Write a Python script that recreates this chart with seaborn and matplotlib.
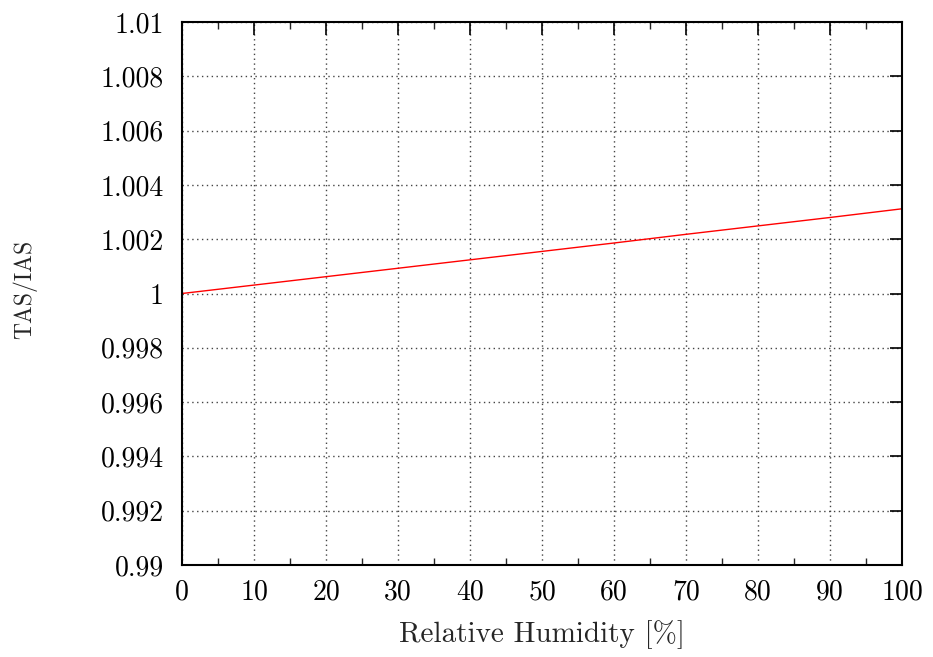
import matplotlib
matplotlib.use("Agg")
import matplotlib.pyplot as plt
import seaborn as sns
import pandas as pd
from matplotlib.ticker import MultipleLocator, FixedLocator

humidity = [0, 10, 20, 30, 40, 50, 60, 70, 80, 90, 100]
ratio = [1.00000, 1.00031, 1.00062, 1.00093, 1.00124, 1.00155,
         1.00186, 1.00218, 1.00249, 1.00280, 1.00312]
x_ticks = [0, 10, 20, 30, 40, 50, 60, 70, 80, 90, 100]
y_ticks = [0.99, 0.992, 0.994, 0.996, 0.998, 1.0, 1.002, 1.004, 1.006, 1.008, 1.01]
y_labels = ["0.99", "0.992", "0.994", "0.996", "0.998", "1", "1.002", "1.004", "1.006", "1.008", "1.01"]

sns.set_style("white")
plt.rcParams['font.family'] = ['cmr10', 'DejaVu Serif']
plt.rcParams['mathtext.fontset'] = 'cm'
plt.rcParams['axes.formatter.use_mathtext'] = True

df = pd.DataFrame({"RH": humidity, "ratio": ratio})

fig = plt.figure(figsize=(9.33, 6.57), dpi=100)
ax = fig.add_axes([182/933, 1-565/657, (902-182)/933, (565-22)/657])
sns.lineplot(data=df, x="RH", y="ratio", ax=ax, color="red", linewidth=1.0)

ax.set_xlim(0, 100)
ax.set_ylim(0.99, 1.01)
ax.xaxis.set_major_locator(FixedLocator(x_ticks))
ax.xaxis.set_minor_locator(MultipleLocator(5))
ax.set_yticks(y_ticks)
ax.set_yticklabels(y_labels)
ax.set_xticklabels([str(v) for v in x_ticks])

ax.grid(True, which="major", linestyle=(0, (1, 2.5)), color="#444444", linewidth=1.0)
for s in ax.spines.values():
    s.set_color("black")
    s.set_linewidth(1.5)
ax.tick_params(which="major", direction="in", length=9, width=1.2, top=True, right=True,
               labelsize=20, colors="black")
ax.tick_params(axis="y", which="major", pad=13)
ax.tick_params(axis="x", which="major", pad=10)
ax.tick_params(which="minor", direction="in", length=5, width=1.0, top=True, right=False,
               bottom=True)
ax.tick_params(axis="y", which="minor", left=False, right=False)

ax.set_xlabel("Relative Humidity [%]", fontsize=21, labelpad=11)
ax.set_ylabel("")
fig.text(25/933, 1-289/657, "TAS/IAS", rotation=90, fontsize=17, ha="center", va="center")

fig.savefig("out.png", dpi=100)
